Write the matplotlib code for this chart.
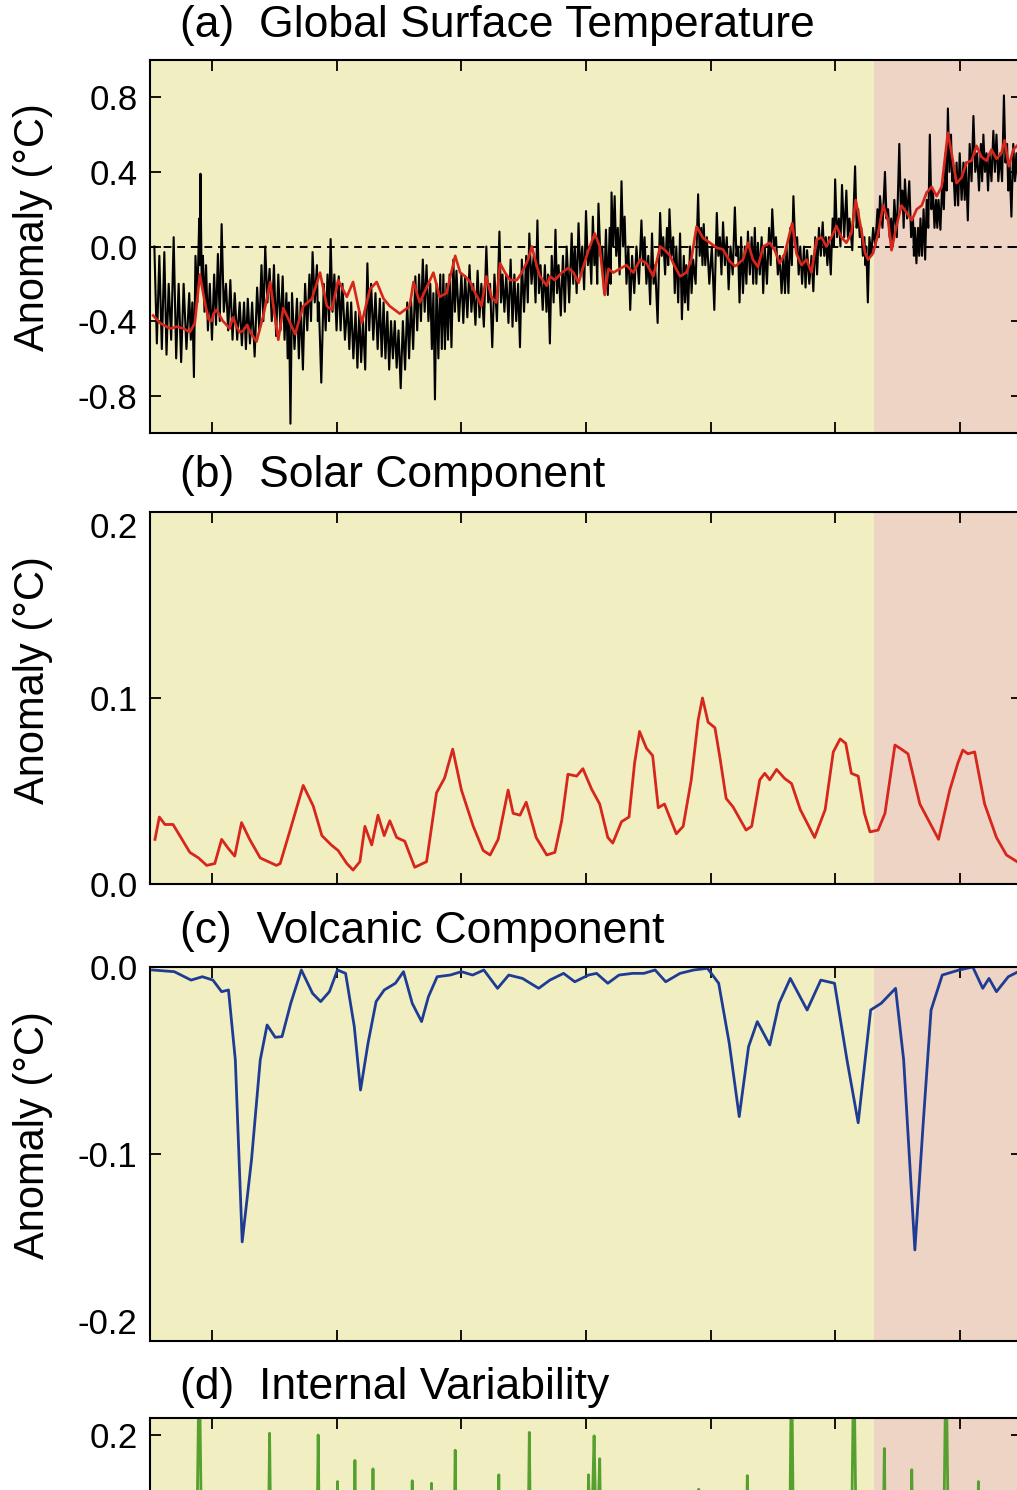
import matplotlib.pyplot as plt
from matplotlib.ticker import FormatStrFormatter

plt.rcParams['font.family'] = ['Liberation Sans', 'DejaVu Sans']
plt.rcParams['axes.unicode_minus'] = False

# ---------------- data ----------------
year_min, year_max = 1870, 2010
year_ticks = [1880, 1900, 1920, 1940, 1960, 1980, 2000]
recent_start = 1986.2   # start of the shaded (pink) period

# (a) observed temperature: local highs at obs_years, lows in between
obs_years = [
    1870.7, 1871.5, 1872.3, 1873.0, 1873.8, 1874.6, 1875.4, 1876.3, 1876.8, 1877.3,
    1877.9, 1878.1, 1878.5, 1879.0, 1879.6, 1880.3, 1880.9, 1881.5, 1882.2, 1882.9,
    1883.6, 1884.4, 1885.1, 1885.7, 1886.4, 1887.2, 1887.9, 1888.5, 1889.2, 1889.9,
    1890.6, 1891.3, 1891.9, 1892.3, 1892.8, 1893.6, 1894.2, 1894.9, 1895.6, 1896.1,
    1896.8, 1897.1, 1897.9, 1898.5, 1899.0, 1899.6, 1900.3, 1900.9, 1901.7, 1902.3,
    1903.0, 1903.6, 1904.2, 1904.9, 1905.5, 1906.2, 1906.9, 1907.5, 1908.1, 1908.7,
    1909.3, 1909.9, 1910.6, 1911.3, 1911.9, 1912.6, 1913.2, 1913.8, 1914.4, 1915.0,
    1915.5, 1916.0, 1916.6, 1917.1, 1917.6, 1918.1, 1918.7, 1919.2, 1920.0, 1920.6,
    1921.3, 1921.9, 1922.6, 1923.2, 1924.0, 1924.6, 1925.3, 1926.1, 1926.6, 1927.2,
    1927.9, 1928.5, 1929.1, 1929.7, 1930.4, 1930.9, 1931.6, 1932.2, 1932.7, 1933.4,
    1933.9, 1934.5, 1935.1, 1935.6, 1936.3, 1936.9, 1937.7, 1938.2, 1938.8, 1939.4,
    1940.0, 1940.6, 1941.1, 1941.6, 1942.0, 1942.6, 1943.2, 1943.8, 1944.1, 1944.6,
    1945.1, 1945.7, 1946.2, 1946.8, 1947.4, 1948.1, 1948.9, 1949.4, 1950.0, 1950.6,
    1951.1, 1951.9, 1952.4, 1953.0, 1953.4, 1954.0, 1954.5, 1955.1, 1955.7, 1956.1,
    1956.7, 1957.2, 1958.0, 1958.5, 1958.9, 1959.4, 1960.2, 1961.0, 1961.5, 1962.0,
    1962.6, 1963.2, 1963.9, 1964.4, 1964.9, 1965.5, 1966.0, 1966.6, 1967.1, 1967.6,
    1968.2, 1968.7, 1969.4, 1969.9, 1970.5, 1971.1, 1971.7, 1972.2, 1972.8, 1973.3,
    1973.9, 1974.4, 1975.0, 1975.5, 1976.2, 1976.8, 1977.4, 1978.0, 1978.5, 1979.0,
    1979.6, 1980.0, 1980.6, 1981.1, 1981.8, 1982.3, 1983.2, 1983.7, 1984.2, 1984.7,
    1985.0, 1985.5, 1986.1, 1986.8, 1987.2, 1988.0, 1988.5, 1989.0, 1989.5, 1990.3,
    1990.8, 1991.2, 1991.9, 1992.5, 1992.8, 1993.3, 1993.7, 1994.2, 1994.7, 1995.2,
    1995.7, 1996.2, 1996.6, 1997.2, 1997.7, 1998.1, 1998.6, 1999.0, 1999.5, 2000.0,
    2000.6, 2001.0, 2001.6, 2002.2, 2002.8, 2003.4, 2003.8, 2004.3, 2004.8, 2005.4,
    2005.9, 2006.5, 2007.1, 2007.6, 2008.0, 2008.6, 2009.1]
obs_hi = [
    0.0, -0.05, -0.03, -0.2, 0.05, -0.2, -0.2, -0.25, -0.3, -0.05,
    0.15, 0.39, -0.05, -0.1, -0.2, -0.15, -0.04, 0.12, -0.2, -0.18,
    -0.25, -0.3, -0.3, -0.28, -0.3, -0.22, -0.1, 0.0, -0.12, -0.1,
    -0.15, -0.16, -0.25, -0.3, -0.25, -0.28, -0.3, -0.2, -0.15, -0.03,
    -0.1, -0.3, -0.2, -0.15, 0.04, -0.15, -0.16, -0.2, -0.3, -0.3,
    -0.35, -0.35, -0.4, -0.09, -0.2, -0.25, -0.28, -0.3, -0.35, -0.4,
    -0.4, -0.45, -0.4, -0.3, -0.28, -0.16, -0.15, -0.07, -0.1, -0.2,
    -0.25, -0.2, -0.15, -0.15, -0.2, -0.15, -0.07, -0.13, -0.15, -0.16,
    -0.1, -0.2, -0.13, -0.2, 0.0, -0.2, -0.15, 0.08, -0.15, -0.15,
    -0.07, -0.15, -0.2, -0.07, -0.05, 0.07, -0.05, 0.14, -0.1, -0.1,
    -0.15, -0.05, 0.09, -0.1, -0.05, 0.0, 0.07, 0.0, 0.125, 0.0,
    0.19, 0.0, 0.16, 0.05, 0.23, 0.0, 0.09, 0.1, 0.29, 0.27,
    0.1, 0.35, 0.16, 0.0, -0.05, 0.0, 0.14, 0.05, -0.05, 0.07,
    -0.1, 0.18, 0.05, 0.1, 0.2, 0.05, 0.0, 0.07, -0.05, -0.1,
    0.0, -0.07, 0.28, 0.1, 0.12, 0.05, 0.0, 0.18, 0.05, 0.13,
    0.05, 0.0, 0.21, 0.0, 0.05, 0.0, 0.08, 0.05, 0.1, 0.02,
    0.05, 0.0, 0.1, 0.2, 0.05, -0.05, -0.05, 0.0, 0.1, 0.27,
    0.05, 0.0, 0.0, -0.02, -0.05, 0.05, 0.1, 0.13, 0.05, 0.05,
    0.15, 0.36, 0.15, 0.33, 0.3, 0.15, 0.43, 0.2, 0.1, 0.05,
    0.0, 0.05, 0.1, 0.2, 0.27, 0.4, 0.2, 0.15, 0.25, 0.55,
    0.3, 0.36, 0.35, 0.15, 0.1, 0.1, 0.15, 0.2, 0.25, 0.6,
    0.3, 0.25, 0.25, 0.35, 0.5, 0.74, 0.6, 0.4, 0.45, 0.5,
    0.45, 0.45, 0.55, 0.7, 0.5, 0.55, 0.6, 0.5, 0.5, 0.62,
    0.6, 0.5, 0.81, 0.55, 0.45, 0.55, 0.5]
obs_lo = [
    -0.52, -0.55, -0.58, -0.5, -0.6, -0.62, -0.55, -0.5, -0.7, -0.3,
    -0.1, -0.2, -0.35, -0.45, -0.5, -0.42, -0.4, -0.35, -0.45, -0.5,
    -0.5, -0.53, -0.55, -0.52, -0.59, -0.45, -0.4, -0.3, -0.4, -0.48,
    -0.45, -0.5, -0.6, -0.95, -0.55, -0.6, -0.66, -0.45, -0.4, -0.3,
    -0.4, -0.73, -0.45, -0.4, -0.35, -0.45, -0.45, -0.5, -0.55, -0.6,
    -0.65, -0.62, -0.66, -0.45, -0.5, -0.55, -0.59, -0.6, -0.66, -0.6,
    -0.65, -0.76, -0.66, -0.6, -0.55, -0.45, -0.4, -0.35, -0.4, -0.55,
    -0.82, -0.6, -0.55, -0.55, -0.5, -0.54, -0.35, -0.4, -0.41, -0.38,
    -0.35, -0.42, -0.38, -0.43, -0.3, -0.54, -0.4, -0.3, -0.35, -0.41,
    -0.43, -0.4, -0.54, -0.35, -0.3, -0.2, -0.3, -0.25, -0.34, -0.35,
    -0.52, -0.3, -0.25, -0.37, -0.35, -0.3, -0.2, -0.25, -0.15, -0.23,
    -0.1, -0.2, -0.1, -0.2, -0.05, -0.25, -0.26, -0.2, 0.0, -0.05,
    -0.15, 0.0, -0.2, -0.34, -0.25, -0.2, -0.1, -0.2, -0.31, -0.2,
    -0.41, -0.05, -0.15, -0.1, -0.05, -0.25, -0.3, -0.39, -0.3, -0.34,
    -0.25, -0.2, -0.05, -0.1, -0.1, -0.2, -0.34, -0.05, -0.15, -0.1,
    -0.23, -0.15, -0.05, -0.3, -0.25, -0.2, -0.15, -0.2, -0.2, -0.15,
    -0.25, -0.2, -0.1, 0.0, -0.15, -0.25, -0.25, -0.25, -0.1, 0.0,
    -0.15, -0.2, -0.22, -0.2, -0.24, -0.15, -0.05, -0.05, -0.1, -0.15,
    0.0, 0.05, 0.0, 0.05, 0.05, -0.02, 0.1, 0.05, -0.05, -0.1,
    -0.3, -0.05, 0.0, 0.05, 0.1, 0.15, 0.05, 0.0, 0.05, 0.2,
    0.1, 0.15, 0.05, -0.05, -0.09, -0.05, -0.05, -0.07, 0.1, 0.2,
    0.1, 0.1, 0.09, 0.2, 0.3, 0.4, 0.35, 0.22, 0.22, 0.25,
    0.25, 0.14, 0.35, 0.4, 0.3, 0.35, 0.4, 0.3, 0.35, 0.4,
    0.35, 0.35, 0.45, 0.3, 0.16, 0.35, 0.35]

# (a) reconstruction (red)
mod_years = [
    1870.5, 1871.6, 1873.2, 1874.3, 1875.4, 1876.4, 1877.2, 1878.0, 1878.8, 1879.4,
    1879.9, 1880.2, 1880.7, 1881.2, 1881.7, 1882.0, 1882.8, 1883.3, 1883.9, 1884.4,
    1885.0, 1885.6, 1886.1, 1887.1, 1888.2, 1889.3, 1889.8, 1890.6, 1891.4, 1892.5,
    1893.3, 1894.6, 1896.0, 1897.3, 1898.4, 1899.2, 1900.2, 1901.6, 1902.6, 1904.0,
    1905.3, 1906.4, 1907.5, 1908.5, 1910.1, 1911.7, 1912.3, 1913.3, 1915.5, 1916.5,
    1917.6, 1919.0, 1919.8, 1920.6, 1921.4, 1921.9, 1922.7, 1923.2, 1924.0, 1924.8,
    1925.6, 1926.2, 1927.0, 1927.8, 1928.9, 1929.7, 1930.7, 1931.3, 1932.1, 1932.6,
    1933.7, 1934.2, 1935.0, 1936.1, 1937.2, 1938.0, 1938.8, 1939.6, 1940.4, 1941.4,
    1942.2, 1943.0, 1943.6, 1944.4, 1945.4, 1946.5, 1947.6, 1948.7, 1949.7, 1950.8,
    1951.9, 1952.7, 1953.5, 1954.0, 1955.1, 1956.1, 1956.9, 1957.75, 1958.8, 1959.9,
    1961.0, 1962.0, 1963.1, 1963.9, 1964.2, 1965.2, 1966.0, 1966.8, 1967.6, 1968.45,
    1969.5, 1970.3, 1971.1, 1971.9, 1973.1, 1973.8, 1974.6, 1975.4, 1976.2, 1977.0,
    1977.8, 1978.6, 1979.4, 1980.2, 1981.0, 1981.8, 1982.6, 1983.3, 1984.2, 1984.8,
    1985.3, 1986.1, 1986.9, 1987.7, 1988.5, 1989.05, 1989.85, 1990.65, 1991.5, 1992.3,
    1993.1, 1993.9, 1994.7, 1995.5, 1996.3, 1997.1, 1998.1, 1998.7, 1999.5, 2000.3,
    2001.1, 2001.9, 2002.7, 2003.5, 2004.3, 2005.1, 2005.9, 2006.7, 2007.2, 2007.9,
    2008.6, 2009.2]
mod_vals = [
    -0.37, -0.41, -0.44, -0.43, -0.44, -0.46, -0.41, -0.15, -0.30, -0.39,
    -0.40, -0.36, -0.34, -0.37, -0.40, -0.41, -0.44, -0.38, -0.43, -0.46,
    -0.45, -0.42, -0.46, -0.51, -0.37, -0.19, -0.32, -0.50, -0.33, -0.41,
    -0.47, -0.32, -0.28, -0.14, -0.32, -0.34, -0.18, -0.27, -0.19, -0.41,
    -0.23, -0.19, -0.28, -0.32, -0.36, -0.32, -0.19, -0.30, -0.14, -0.27,
    -0.25, -0.05, -0.14, -0.16, -0.19, -0.23, -0.28, -0.32, -0.16, -0.27,
    -0.30, -0.09, -0.14, -0.18, -0.18, -0.14, -0.07, 0.0, -0.105, -0.16,
    -0.21, -0.16, -0.18, -0.14, -0.115, -0.14, -0.195, -0.105, -0.02, 0.07,
    0.0, -0.26, -0.12, -0.14, -0.12, -0.10, -0.14, -0.07, -0.09, -0.16,
    0.0, -0.02, -0.05, -0.09, -0.16, -0.14, -0.07, 0.107, 0.045, 0.02,
    -0.007, -0.016, -0.08, -0.105, -0.10, -0.07, 0.02, -0.07, -0.11, 0.0,
    0.02, -0.02, -0.09, -0.04, 0.125, -0.04, -0.10, -0.07, -0.14, 0.035,
    0.05, 0.0, 0.05, 0.11, 0.05, 0.02, 0.07, 0.25, 0.09, -0.035,
    -0.07, -0.035, 0.07, 0.22, 0.14, -0.02, 0.11, 0.22, 0.18, 0.14,
    0.20, 0.22, 0.29, 0.32, 0.27, 0.32, 0.61, 0.50, 0.34, 0.37,
    0.45, 0.46, 0.54, 0.48, 0.46, 0.52, 0.47, 0.50, 0.57, 0.43,
    0.52, 0.54]

# (b) solar component
solar_years = [
    1870.8, 1871.5, 1872.4, 1873.7, 1876.4, 1877.8, 1879.1, 1880.4, 1881.5, 1882.6,
    1883.6, 1884.7, 1886.0, 1887.7, 1890.3, 1890.9, 1892.5, 1894.6, 1896.2, 1897.6,
    1899.1, 1900.2, 1901.6, 1902.6, 1903.7, 1904.5, 1905.6, 1906.6, 1907.6, 1908.5,
    1909.6, 1910.9, 1912.5, 1914.4, 1916.0, 1917.3, 1918.6, 1920.0, 1921.9, 1923.5,
    1924.6, 1925.9, 1927.5, 1928.3, 1929.4, 1930.4, 1932.0, 1933.7, 1935.0, 1936.1,
    1937.1, 1938.5, 1939.5, 1940.9, 1942.2, 1943.5, 1944.3, 1945.7, 1946.9, 1947.8,
    1948.6, 1949.7, 1950.7, 1951.6, 1952.6, 1954.5, 1955.6, 1956.9, 1958.0, 1958.7,
    1959.6, 1960.7, 1961.5, 1962.5, 1963.6, 1965.7, 1966.6, 1967.9, 1968.7, 1969.5,
    1970.6, 1971.9, 1973.0, 1974.4, 1976.7, 1978.4, 1979.7, 1980.8, 1981.7, 1982.6,
    1983.7, 1984.7, 1985.6, 1986.9, 1988.0, 1989.6, 1990.4, 1991.7, 1993.6, 1995.5,
    1996.6, 1998.4, 1999.7, 2000.5, 2001.3, 2002.4, 2004.0, 2005.9, 2007.5, 2009.2]
solar_vals = [
    0.024, 0.036, 0.032, 0.032, 0.017, 0.014, 0.010, 0.011, 0.024, 0.019,
    0.015, 0.033, 0.024, 0.014, 0.010, 0.011, 0.029, 0.053, 0.042, 0.026,
    0.021, 0.018, 0.011, 0.0075, 0.012, 0.031, 0.021, 0.037, 0.026, 0.034,
    0.025, 0.023, 0.009, 0.012, 0.049, 0.057, 0.0725, 0.0505, 0.031, 0.018,
    0.0156, 0.024, 0.0505, 0.038, 0.037, 0.044, 0.025, 0.0156, 0.017, 0.034,
    0.059, 0.058, 0.062, 0.051, 0.043, 0.025, 0.022, 0.0335, 0.036, 0.065,
    0.082, 0.073, 0.069, 0.041, 0.043, 0.027, 0.031, 0.056, 0.088, 0.100,
    0.087, 0.084, 0.068, 0.046, 0.0415, 0.029, 0.031, 0.056, 0.0595, 0.056,
    0.0616, 0.0567, 0.054, 0.040, 0.025, 0.040, 0.071, 0.078, 0.0756, 0.0595,
    0.058, 0.038, 0.028, 0.029, 0.038, 0.0747, 0.073, 0.070, 0.043, 0.031,
    0.024, 0.0505, 0.065, 0.072, 0.070, 0.071, 0.043, 0.025, 0.0156, 0.012]

# (c) volcanic component
volc_years = [
    1870.4, 1873.9, 1876.6, 1878.4, 1880.1, 1881.5, 1882.6, 1883.7, 1884.8, 1886.3,
    1887.7, 1888.8, 1890.1, 1891.2, 1892.6, 1894.3, 1896.1, 1897.4, 1898.8, 1900.1,
    1901.4, 1902.8, 1903.8, 1905.0, 1906.3, 1907.6, 1909.4, 1910.7, 1912.1, 1913.6,
    1914.7, 1916.1, 1918.2, 1920.0, 1921.8, 1923.6, 1925.8, 1927.6, 1929.8, 1932.4,
    1934.2, 1936.4, 1938.2, 1940.4, 1941.7, 1943.5, 1945.3, 1947.5, 1949.3, 1951.1,
    1952.8, 1955.1, 1957.3, 1959.5, 1961.3, 1963.0, 1964.6, 1966.1, 1967.5, 1969.5,
    1971.0, 1972.8, 1975.5, 1977.7, 1979.9, 1981.9, 1983.7, 1985.7, 1987.4, 1989.7,
    1991.0, 1992.8, 1994.1, 1995.4, 1997.2, 1999.9, 2002.1, 2003.7, 2004.7, 2005.9,
    2007.8, 2009.4]
volc_vals = [
    -0.0016, -0.0025, -0.007, -0.0052, -0.007, -0.0132, -0.0123, -0.0497, -0.147, -0.103,
    -0.0497, -0.031, -0.0376, -0.0372, -0.0194, -0.0016, -0.0141, -0.0185, -0.0132, -0.0016,
    -0.0034, -0.0319, -0.0658, -0.0408, -0.0185, -0.0123, -0.0087, -0.0025, -0.0194, -0.0292,
    -0.0159, -0.0052, -0.0043, -0.0025, -0.0043, -0.0016, -0.0114, -0.0043, -0.0061, -0.0114,
    -0.007, -0.0034, -0.0079, -0.0043, -0.0034, -0.0087, -0.0043, -0.0034, -0.0034, -0.0016,
    -0.0079, -0.0034, -0.0016, -0.0007, -0.0087, -0.0408, -0.080, -0.0426, -0.0292, -0.0417,
    -0.0194, -0.0061, -0.023, -0.007, -0.0087, -0.0497, -0.0833, -0.023, -0.0194, -0.0114,
    -0.0497, -0.1513, -0.0854, -0.023, -0.0043, -0.0016, 0.0, -0.0114, -0.0061, -0.0132,
    -0.0052, -0.0025]

# (d) internal variability (only the upper part of the panel is in the picture)
iv_years = [
    1870.5, 1877.4, 1877.9, 1878.4, 1888.9, 1889.2, 1889.5, 1896.7, 1897.0, 1897.3,
    1899.8, 1900.1, 1900.4, 1902.6, 1902.9, 1903.2, 1905.5, 1905.8, 1906.1, 1911.8,
    1912.1, 1912.4, 1914.9, 1915.2, 1915.5, 1918.7, 1919.0, 1919.3, 1925.7, 1926.0,
    1926.3, 1930.6, 1930.9, 1931.2, 1940.1, 1940.4, 1940.8, 1941.3, 1941.7, 1942.2,
    1942.5, 1957.8, 1958.1, 1958.4, 1965.6, 1965.9, 1966.2, 1972.6, 1973.0, 1973.4,
    1982.5, 1983.0, 1983.5, 1987.6, 1987.9, 1988.2, 1992.0, 1992.3, 1992.6, 1997.3,
    1997.8, 1998.3, 2002.7, 2003.0, 2003.3, 2009.5]
iv_vals = [
    0.0, 0.0, 0.30, 0.0, 0.0, 0.202, 0.0, 0.0, 0.20, 0.0,
    0.0, 0.145, 0.0, 0.0, 0.17, 0.0, 0.0, 0.16, 0.0, 0.0,
    0.146, 0.0, 0.0, 0.143, 0.0, 0.0, 0.182, 0.0, 0.0, 0.153,
    0.0, 0.0, 0.203, 0.0, 0.0, 0.153, 0.05, 0.199, 0.05, 0.172,
    0.0, 0.0, 0.136, 0.0, 0.0, 0.152, 0.0, 0.0, 0.30, 0.0,
    0.0, 0.30, 0.0, 0.0, 0.184, 0.0, 0.0, 0.159, 0.0, 0.0,
    0.30, 0.0, 0.0, 0.145, 0.0, 0.0]

# ---------------- colours ----------------
c_early = '#f1efc2'
c_recent = '#edd4c4'
c_red = '#d7261c'
c_blue = '#1f3c94'
c_green = '#55a02e'

# observed series: highs at given years, lows half way to the next high
obs_x, obs_y = [], []
for i in range(len(obs_years)):
    obs_x.append(obs_years[i])
    obs_y.append(obs_hi[i])
    if i + 1 < len(obs_years):
        obs_x.append((obs_years[i] + obs_years[i + 1]) / 2)
    else:
        obs_x.append(obs_years[i] + (obs_years[i] - obs_years[i - 1]) / 2)
    obs_y.append(obs_lo[i])

# ---------------- figure ----------------
W, H = 1017.0, 1490.0
fig = plt.figure(figsize=(W / 100, H / 100), dpi=100)


def add_panel(top, height):
    # pixel layout of the source figure; right spine lies just past the edge
    return fig.add_axes([150 / W, 1 - (top + height) / H, 872 / W, height / H])


ax_a = add_panel(60, 373)
ax_b = add_panel(512, 372)
ax_c = add_panel(967, 374)
ax_d = add_panel(1418, 373)

for ax in [ax_a, ax_b, ax_c, ax_d]:
    ax.set_facecolor(c_early)
    ax.axvspan(recent_start, year_max, color=c_recent, lw=0, zorder=0)
    ax.set_xlim(year_min, year_max)
    ax.set_xticks(year_ticks)
    ax.tick_params(axis='both', direction='in', length=8, width=1.3,
                   top=True, right=True, labelbottom=False,
                   labelsize=25, pad=9)
    ax.yaxis.set_major_formatter(FormatStrFormatter('%.1f'))
    for s in ax.spines.values():
        s.set_linewidth(1.5)

# (a)
ax_a.axhline(0, color='black', lw=1.4, ls=(0, (4, 3)), zorder=1)
ax_a.plot(obs_x, obs_y, color='black', lw=1.5, zorder=2)
ax_a.plot(mod_years, mod_vals, color=c_red, lw=1.9, zorder=3)
ax_a.set_ylim(-1, 1)
ax_a.set_yticks([-0.8, -0.4, 0.0, 0.4, 0.8])

# (b)
ax_b.plot(solar_years, solar_vals, color=c_red, lw=2.0)
ax_b.set_ylim(0, 0.2)
ax_b.set_yticks([0.0, 0.1, 0.2])

# (c)
ax_c.plot(volc_years, volc_vals, color=c_blue, lw=2.0)
ax_c.set_ylim(-0.2, 0.0)
ax_c.set_yticks([-0.2, -0.1, 0.0])

# (d) - only the top of this panel fits in the picture
ax_d.plot(iv_years, iv_vals, color=c_green, lw=2.0)
ax_d.set_ylim(-0.22, 0.22)
ax_d.set_yticks([0.2])

# end labels nudged inside the frame like the original
ax_b.get_yticklabels()[-1].set_va('top')
ax_c.get_yticklabels()[0].set_va('bottom')

# panel titles and axis labels
titles = ['(a)  Global Surface Temperature', '(b)  Solar Component',
          '(c)  Volcanic Component', '(d)  Internal Variability']
title_y = [25, 476, 931, 1388]
for t, yy in zip(titles, title_y):
    fig.text(180 / W, 1 - yy / H, t, fontsize=32, va='center', ha='left')

for yy in [227, 680, 1135]:
    fig.text(33 / W, 1 - yy / H, 'Anomaly (°C)', fontsize=30, rotation=90,
             va='center', ha='center')

fig.savefig('out.png', dpi=100)
